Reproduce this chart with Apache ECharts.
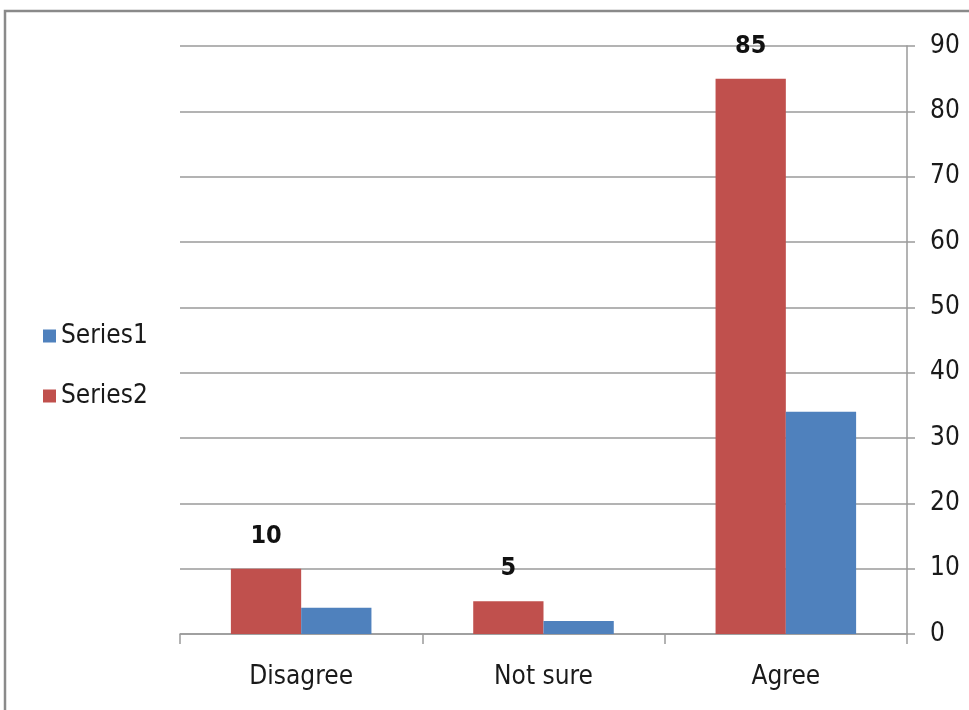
<!DOCTYPE html>
<html>
<head>
<meta charset="utf-8">
<script src="https://cdn.jsdelivr.net/npm/echarts@6/dist/echarts.min.js"></script>
<style>
  html, body { margin: 0; padding: 0; background: #fff; }
  #chart { width: 969px; height: 710px; }
</style>
</head>
<body>
<div id="chart"></div>
<script>
// Survey responses per category
const categories = ['Disagree', 'Not sure', 'Agree'];
const series1Values = [4, 2, 34];
const series2Values = [10, 5, 85];
const yTicks = { min: 0, max: 90, interval: 10 };

const FONT = '"Liberation Sans Narrow", "DejaVu Sans Condensed", "Open Sans", sans-serif';
const TEXT = '#1a1a1a';
const GRID_LINE = '#9a9a9a';

const chart = echarts.init(document.getElementById('chart'), null, { renderer: 'canvas' });

chart.setOption({
  animation: false,
  backgroundColor: '#fff',
  graphic: [{
    type: 'rect',
    shape: { x: 5, y: 11, width: 1000, height: 760 },
    style: { fill: 'none', stroke: '#8a8a8a', lineWidth: 2.5 },
    silent: true
  }],
  legend: {
    orient: 'vertical',
    left: 38,
    top: 318,
    itemWidth: 13,
    itemHeight: 13,
    itemGap: 34,
    icon: 'rect',
    textStyle: { fontFamily: FONT, fontSize: 26, color: TEXT, padding: [0, 0, 0, 0] },
    data: ['Series1', 'Series2']
  },
  grid: { left: 180, right: 62, top: 46, bottom: 76, containLabel: false },
  xAxis: {
    type: 'category',
    data: categories,
    axisLine: { show: true, lineStyle: { color: GRID_LINE, width: 1.5 } },
    axisTick: { show: true, length: 10, alignWithLabel: false, lineStyle: { color: GRID_LINE, width: 1.5 } },
    axisLabel: { fontFamily: FONT, fontSize: 26, color: TEXT, margin: 30 }
  },
  yAxis: {
    type: 'value',
    position: 'right',
    min: yTicks.min,
    max: yTicks.max,
    interval: yTicks.interval,
    axisLine: { show: true, lineStyle: { color: GRID_LINE, width: 1.5 } },
    axisTick: { show: true, length: 8, lineStyle: { color: GRID_LINE, width: 1.5 } },
    axisLabel: { fontFamily: FONT, fontSize: 26, color: TEXT, margin: 23 },
    splitLine: { show: true, lineStyle: { color: GRID_LINE, width: 1.5 } }
  },
  series: [
    {
      name: 'Series2',
      type: 'bar',
      data: series2Values,
      itemStyle: { color: '#C0504D' },
      barGap: '0%',
      barCategoryGap: '42%',
      label: {
        show: true,
        position: 'top',
        distance: 20,
        fontFamily: FONT,
        fontSize: 25,
        fontWeight: 'bold',
        color: '#111'
      }
    },
    {
      name: 'Series1',
      type: 'bar',
      data: series1Values,
      itemStyle: { color: '#4F81BD' },
      barGap: '0%',
      barCategoryGap: '42%'
    }
  ]
});
</script>
</body>
</html>
